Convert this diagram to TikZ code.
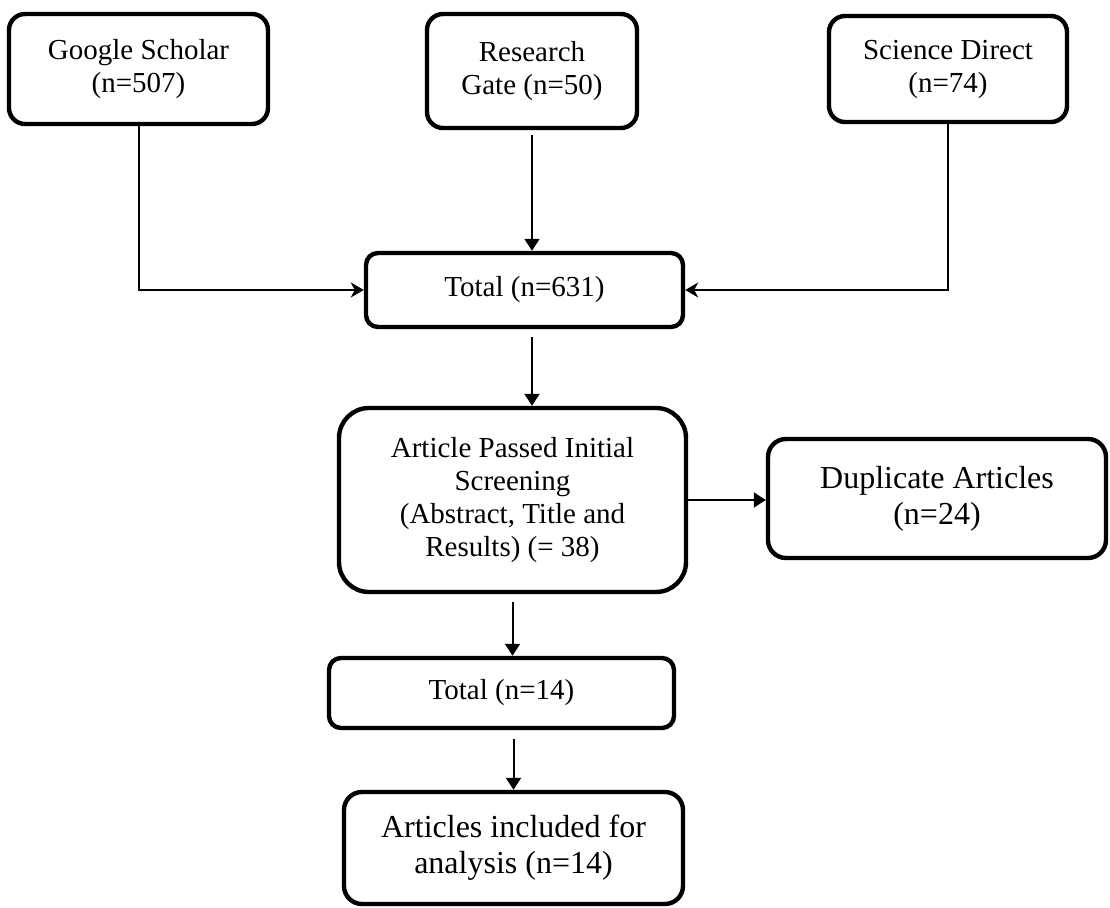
\documentclass[tikz,border=0pt]{standalone}
\usepackage{fontspec}
\setmainfont{Liberation Serif}
\usetikzlibrary{arrows.meta, positioning}

\begin{document}
\begin{tikzpicture}[x=0.5pt, y=-0.5pt, line width=1pt, > = {Triangle[length=6pt, width=7.5pt]}]
    \tikzset{
      my box/.style={
        draw, line width=2.2pt, rounded corners=#1, align=center, inner sep=0pt,
        font=\fontsize{14.5}{16.5}\selectfont
      },
      my box/.default=8pt,
      my big box/.style={
        my box=#1, font=\fontsize{16}{18}\selectfont
      },
      my big box/.default=9pt,
      my side arrow/.style={-{Stealth[length=6.5pt, width=7.5pt, inset=2pt]}},
    }
    \useasboundingbox (0,0) rectangle (1110,908);

    % Sources
    \node (scholar) [my box, minimum width=129.5pt, minimum height=55pt] at (138.5,69)
      {Google Scholar\\(n=507)};
    \node (gate) [my box, minimum width=105pt, minimum height=57pt] at (532,71)
      {Research\\Gate (n=50)};
    \node (direct) [my box, minimum width=119pt, minimum height=53pt] at (948,69)
      {Science Direct\\(n=74)};

    % Screening steps
    \node (total1) [my box=6pt, minimum width=158.5pt, minimum height=37pt] at (524.5,290)
      {Total (n=631)};
    \node (screen) [my box=15pt, minimum width=173.5pt, minimum height=92pt] at (512.5,500)
      {Article Passed Initial\\Screening\\ (Abstract, Title and\\Results) (= 38)};
    \node (dup) [my big box, minimum width=169pt, minimum height=59.5pt] at (937,498.5)
      {Duplicate Articles\\(n=24)};
    \node (total2) [my box=6pt, minimum width=172.5pt, minimum height=35pt] at (501.5,693)
      {Total (n=14)};
    \node (final) [my big box, minimum width=169.5pt, minimum height=56pt] at (513.5,848)
      {Articles included for\\analysis (n=14)};

    % Arrows
    \draw[my side arrow] (scholar) |- (total1);
    \draw[my side arrow] (direct) |- (total1);
    \draw[->, shorten <=2.5pt] (gate) -- (gate |- total1.north);
    \draw[->, shorten <=4pt] (total1.south -| gate) -- (gate |- screen.north);
    \draw[->] (screen.east) -- (screen.east -| dup.west);
    \draw[->, shorten <=4pt] (screen) -- (screen |- total2.north);
    \draw[->, shorten <=4.5pt] (total2.south -| final) -- (final);

\end{tikzpicture}
\end{document}
